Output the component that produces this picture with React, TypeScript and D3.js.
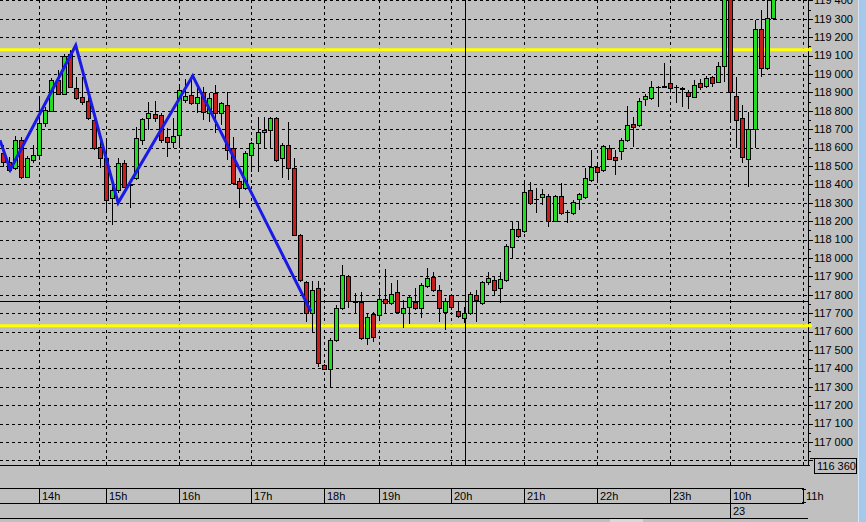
import React from "react";
import * as d3 from "d3";

const opens = [118570,118520,118490,118640,118440,118530,118560,118735,118800,118965,118890,119110,118925,118875,118855,118750,118605,118545,118325,118370,118515,118400,118435,118640,118760,118780,118775,118655,118630,118670,118860,118885,118840,118900,118790,118895,118790,118830,118600,118420,118380,118560,118625,118685,118695,118760,118545,118615,118490,118125,117870,117700,117835,117420,117395,117555,117730,117900,117760,117760,117565,117695,117690,117775,117755,117815,117700,117735,117760,117730,117850,117895,117825,117705,117800,117710,117675,117700,117800,117755,117870,117880,117835,117880,118060,118155,118145,118370,118320,118330,118335,118200,118335,118250,118245,118320,118330,118425,118495,118480,118600,118550,118580,118640,118730,118725,118865,118870,118930,118930,118950,118930,118925,118900,118875,118950,118935,118985,118955,119045,119430,118880,118760,118540,118700,119245,119030,119305];
const highs = [118615,118550,118665,118655,118555,118615,118870,118820,118980,119020,119110,119130,118985,118985,118885,118795,118655,118650,118415,118545,118530,118405,118710,118760,118850,118855,118790,118705,118760,118940,118975,118995,118925,118930,118895,118940,118850,118900,118655,118435,118580,118630,118765,118765,118765,118765,118625,118740,118545,118130,117875,117875,117875,117425,117565,117745,117960,117905,117810,117815,117700,117705,117825,117940,117865,117880,117770,117800,117835,117865,117945,117925,117855,117780,117805,117760,117735,117815,117825,117875,117925,117895,117925,118075,118195,118195,118415,118415,118380,118375,118350,118340,118405,118260,118315,118355,118490,118585,118505,118615,118615,118585,118650,118825,118765,118870,118890,118960,118935,119060,119030,118940,118930,118915,118965,118975,118990,118990,119065,119460,119460,118985,118830,118795,119295,119350,119430,119460];
const lows = [118495,118465,118480,118430,118435,118515,118530,118710,118795,118890,118885,118925,118860,118830,118750,118585,118490,118250,118180,118355,118380,118270,118425,118615,118695,118740,118625,118550,118600,118600,118840,118830,118790,118750,118740,118680,118725,118530,118395,118270,118370,118465,118465,118600,118600,118520,118435,118425,118120,117870,117650,117600,117405,117390,117300,117545,117715,117730,117700,117555,117525,117545,117675,117695,117745,117695,117620,117640,117715,117675,117835,117815,117650,117610,117715,117675,117645,117690,117650,117745,117855,117800,117755,117870,118000,118110,118135,118290,118245,118290,118170,118195,118235,118190,118235,118260,118320,118415,118405,118465,118530,118450,118530,118630,118605,118710,118825,118860,118820,118925,118915,118840,118820,118810,118870,118915,118925,118930,118950,118955,118740,118600,118515,118385,118600,118985,119020,119295];
const closes = [118520,118480,118640,118440,118545,118560,118735,118805,118965,118890,119100,118930,118870,118850,118760,118600,118545,118315,118370,118515,118385,118395,118650,118755,118790,118760,118640,118630,118665,118915,118880,118840,118875,118795,118870,118790,118840,118585,118405,118380,118570,118625,118685,118695,118760,118530,118615,118490,118125,117880,117700,117825,117430,117395,117555,117730,117905,117765,117760,117565,117680,117570,117775,117755,117805,117705,117730,117790,117730,117855,117890,117825,117730,117765,117735,117685,117700,117805,117770,117870,117890,117825,117885,118065,118155,118120,118360,118300,118320,118350,118200,118335,118245,118250,118305,118350,118435,118495,118465,118610,118540,118530,118640,118725,118710,118855,118880,118930,118930,118935,118925,118930,118920,118880,118940,118930,118980,118950,119045,119430,118900,118750,118550,118700,119245,119030,119305,119430];

const hourLabels = ["14h","15h","16h","17h","18h","19h","20h","21h","22h","23h","10h","11h"];
const hourIndex = [6,17,29,41,53,62,74,86,98,110,120,132];
const dayLabels = ["23"];
const dayIndex = [120];
const priceTicks = [116900,117000,117100,117200,117300,117400,117500,117600,117700,117800,117900,118000,118100,118200,118300,118400,118500,118600,118700,118800,118900,119000,119100,119200,119300,119400];
const levelPrices = [119132, 117632];
const zigIndex = [-0.5, 1.2, 12, 19, 31.3, 50.8];
const zigPrice = [118640, 118480, 119155, 118300, 118990, 117710];
const crossIndex = 76.2;
const crossPrice = 117766;
const boxLabel = "116 360";

const W = 866, H = 522;
const PR = 808, PB = 465;
const GREEN = "#22dd22", RED = "#c81e1e", BG = "#c0c0c0";
const FONT = "'Liberation Sans', Arial, sans-serif";

export default function App() {
  const x = d3.scaleLinear().domain([0, 132]).range([3, 803]);
  const y = d3.scaleLinear().domain([116875, 119402]).range([PB, 0]);
  const fmt = (v: number) => d3.format(",")(v).replace(/,/g, " ");
  const px = (i: number) => Math.round(x(i));
  const zig = d3.line<number>().x((d, k) => x(zigIndex[k])).y((d) => y(d));

  return (
    <svg width={W} height={H} style={{ position: "fixed", left: 0, top: 0, display: "block" }} fontFamily={FONT}>
      <defs>
        <clipPath id="plot"><rect x={0} y={0} width={PR} height={PB} /></clipPath>
      </defs>
      <rect x={0} y={0} width={W} height={H} fill={BG} />
      <g shapeRendering="crispEdges" stroke="#000" strokeDasharray="3,3">
        {priceTicks.map((p) => (
          <line key={p} x1={0} x2={PR} y1={Math.round(y(p)) + 0.5} y2={Math.round(y(p)) + 0.5} />
        ))}
        {hourIndex.map((i) => (
          <line key={i} x1={px(i) + 0.5} x2={px(i) + 0.5} y1={0} y2={PB} />
        ))}
      </g>
      <g clipPath="url(#plot)">
        {levelPrices.map((p) => (
          <line key={p} x1={0} x2={PR} y1={y(p)} y2={y(p)} stroke="#ffff00" strokeWidth={3} />
        ))}
        <g shapeRendering="crispEdges" stroke="#000">
          <line x1={0} x2={PR} y1={Math.round(y(crossPrice)) + 0.5} y2={Math.round(y(crossPrice)) + 0.5} />
          <line x1={px(crossIndex) + 0.5} x2={px(crossIndex) + 0.5} y1={0} y2={PB} />
        </g>
        <g shapeRendering="crispEdges">
          {opens.map((o, i) => {
            const c = closes[i];
            const cx = px(i);
            const top = Math.round(y(Math.max(o, c)));
            const bot = Math.round(y(Math.min(o, c)));
            const flat = bot - top < 2;
            return (
              <g key={i}>
                <line x1={cx + 0.5} x2={cx + 0.5} y1={Math.round(y(highs[i]))} y2={Math.round(y(lows[i]))} stroke="#000" />
                {flat ? (
                  <rect x={cx - 2} y={top} width={5} height={Math.max(1, bot - top + 1)} fill="#000" />
                ) : (
                  <rect x={cx - 1.5} y={top + 0.5} width={4} height={bot - top} fill={c >= o ? GREEN : RED} stroke="#000" />
                )}
              </g>
            );
          })}
        </g>
        <path d={zig(zigPrice) || ""} fill="none" stroke="#1a1ae6" strokeWidth={3} strokeLinejoin="miter" />
      </g>
      <g shapeRendering="crispEdges" stroke="#000">
        <line x1={PR + 0.5} x2={PR + 0.5} y1={0} y2={PB + 1} />
        <line x1={0} x2={PR + 2} y1={PB + 0.5} y2={PB + 0.5} />
        {priceTicks.map((p) => (
          <line key={p} x1={PR} x2={PR + 5} y1={Math.round(y(p)) + 0.5} y2={Math.round(y(p)) + 0.5} />
        ))}
        {priceTicks.map((p) => (
          <line key={"m" + p} x1={PR} x2={PR + 3} y1={Math.round(y(p + 50)) + 0.5} y2={Math.round(y(p + 50)) + 0.5} />
        ))}
      </g>
      {levelPrices.map((p) => (
        <line key={"lv" + p} x1={PR - 2} x2={PR + 4} y1={y(p)} y2={y(p)} stroke="#ffff00" strokeWidth={3} />
      ))}
      <g fontSize={11} fill="#000">
        {priceTicks.filter((p) => p >= 117000).map((p) => (
          <text key={p} x={PR + 6} y={y(p)} dy="0.35em">{fmt(p)}</text>
        ))}
      </g>
      <g shapeRendering="crispEdges">
        <line x1={PR + 2} x2={814} y1={458.5} y2={458.5} stroke="#000" />
        <rect x={814.5} y={458.5} width={42} height={15} fill={BG} stroke="#000" />
      </g>
      <text x={817} y={470} fontSize={11}>{boxLabel}</text>
      <g shapeRendering="crispEdges" stroke="#000">
        <line x1={0} x2={804} y1={488.5} y2={488.5} />
        <line x1={0} x2={804} y1={503.5} y2={503.5} />
        <line x1={0} x2={PR} y1={518.5} y2={518.5} />
        {hourIndex.map((i, k) => {
          const hx = px(i) + 0.5;
          const last = k === hourIndex.length - 1;
          return (
            <g key={i}>
              <line x1={hx} x2={hx} y1={488} y2={dayIndex.includes(i) ? 518 : 503} />
              {last && <line x1={hx - 2} x2={hx + 2} y1={489.5} y2={489.5} />}
              {last && <line x1={hx - 2} x2={hx + 2} y1={502.5} y2={502.5} />}
            </g>
          );
        })}
      </g>
      <g fontSize={11} fill="#000">
        {hourLabels.map((l, k) => (
          <text key={l} x={px(hourIndex[k]) + 3} y={500}>{l}</text>
        ))}
        {dayLabels.map((l, k) => (
          <text key={l} x={px(dayIndex[k]) + 3} y={515}>{l}</text>
        ))}
      </g>
      <rect x={610} y={519} width={33} height={3} fill="#d8d8d8" />
      <rect x={858} y={0} width={8} height={H} fill="#a6c8ea" />
      <rect x={858} y={0} width={1} height={H} fill="#d6e6f6" />
    </svg>
  );
}
